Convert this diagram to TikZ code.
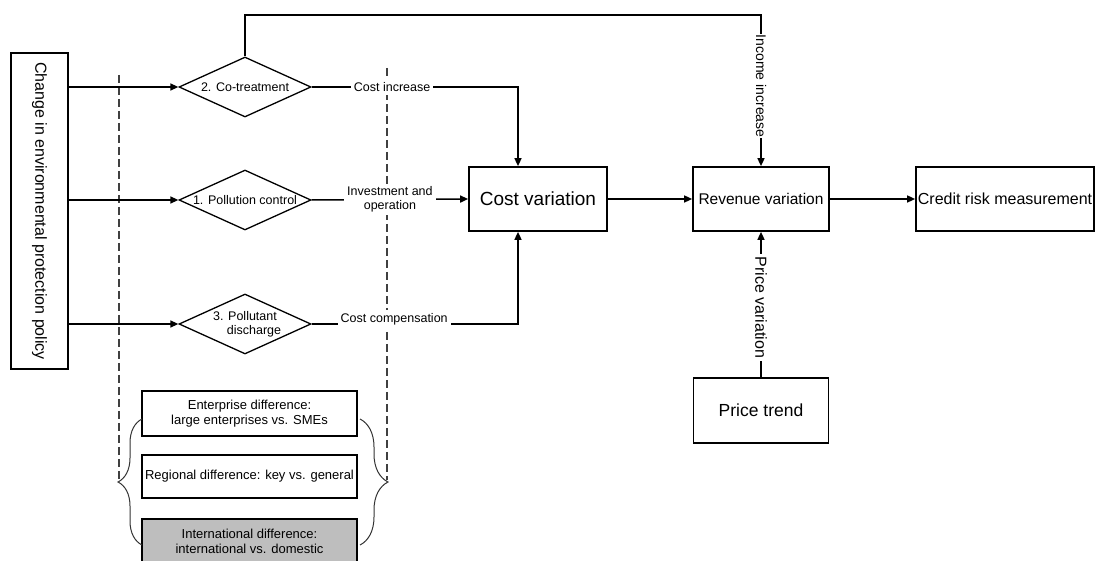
\documentclass[tikz,border=0pt]{standalone}
\usepackage{fontspec}
\setmainfont{Liberation Sans}
\usetikzlibrary{shapes.geometric,arrows.meta,decorations.pathreplacing,positioning}
\definecolor{boxgray}{RGB}{190,190,190}

\begin{document}
\begin{tikzpicture}[x=1pt,y=-1pt,
        box/.style={draw, line width=1.7pt, inner sep=1pt},
        choice/.style={draw, diamond, line width=1.3pt, inner sep=0pt, shape aspect=2.2,
                minimum width=132pt, minimum height=60pt, align=center,
                font=\fontsize{12.5}{14}\selectfont},
        lbl/.style={fill=white, inner sep=3pt, align=center, font=\fontsize{12.5}{14}\selectfont},
        flow/.style={line width=1.5pt, -{Triangle[length=8pt,width=7pt]}},
        guide/.style={line width=1.3pt, dash pattern=on 8pt off 4pt, black!75},
        curly/.style={decorate, line width=1pt, black!80}]
        \useasboundingbox (0,0) rectangle (1096,561);
        \draw[guide] (119,75) -- (119,480);
        \draw[guide] (387,68) -- (387,480);

        \node[box, rotate=-90, minimum width=316pt, minimum height=57pt, font=\fontsize{16}{19}\selectfont] (policy) at (39.5,211) {Change in environmental protection policy};
        \node[choice] (cotreat) at (245,87) {2. Co-treatment};
        \node[choice] (control) at (245,200) {1. Pollution control};
        \node[choice] (discharge) at (245,324) {3. Pollutant\\\hspace*{18pt}discharge};
        \node[box, minimum width=138pt, minimum height=64pt, font=\fontsize{19}{22}\selectfont] (cost) at (538,199) {Cost variation};
        \node[box, minimum width=136pt, minimum height=64pt, font=\fontsize{15.5}{18}\selectfont] (revenue) at (761,199) {Revenue variation};
        \node[box, minimum width=178pt, minimum height=64pt, font=\fontsize{16}{19}\selectfont] (credit) at (1005,199) {Credit risk measurement};
        \node[box, minimum width=135pt, minimum height=65pt, font=\fontsize{17.5}{20}\selectfont] (price) at (761,410.5) {Price trend};
        \node[box, minimum width=215pt, minimum height=45pt, align=center, font=\fontsize{13}{15}\selectfont] (enterprise) at (249.5,413.5) {Enterprise difference:\\large enterprises vs. SMEs};
        \node[box, minimum width=215pt, minimum height=43pt, font=\fontsize{13}{15}\selectfont] (regional) at (249.5,476.5) {Regional difference: key vs. general};
        \node[box, fill=boxgray, minimum width=215pt, minimum height=44pt, align=center, font=\fontsize{13}{15}\selectfont] (international) at (249.5,541) {International difference:\\international vs. domestic};

        \coordinate (top) at (0,15);
        \coordinate (costin) at ([xshift=-20pt]cost.north);
        \coordinate (costout) at ([xshift=-20pt]cost.south);

        \draw[flow] (policy.north |- cotreat.west) -- (cotreat.west);
        \draw[flow] (policy.north |- control.west) -- (control.west);
        \draw[flow] (policy.north |- discharge.west) -- (discharge.west);
        \draw[flow] (cotreat.east) -- node[lbl, pos=0.39] {Cost increase} (cotreat.east -| costin) -- (costin);
        \draw[flow] (control.east) -- node[lbl] {Investment and\\operation} (cost.west);
        \draw[flow] (discharge.east) -- node[lbl, pos=0.4, yshift=5pt] {Cost compensation} (discharge.east -| costout) -- (costout);
        \draw[flow] (cotreat.north) -- (cotreat.north |- top) -- (revenue.north |- top)
                -- node[lbl, rotate=-90, pos=0.47, inner sep=1pt, font=\fontsize{14}{16}\selectfont] {Income increase} (revenue.north);
        \draw[flow] (price.north) -- node[lbl, rotate=-90, pos=0.48, font=\fontsize{16}{19}\selectfont] {Price variation} (revenue.south);
        \draw[flow] (cost.east) -- (revenue.west);
        \draw[flow] (revenue.east) -- (credit.west);

        \draw[curly, decoration={brace, amplitude=24pt}] (142,545) -- (142,419);
        \draw[curly, decoration={brace, amplitude=28pt}] (360,419) -- (360,545);
\end{tikzpicture}
\end{document}
